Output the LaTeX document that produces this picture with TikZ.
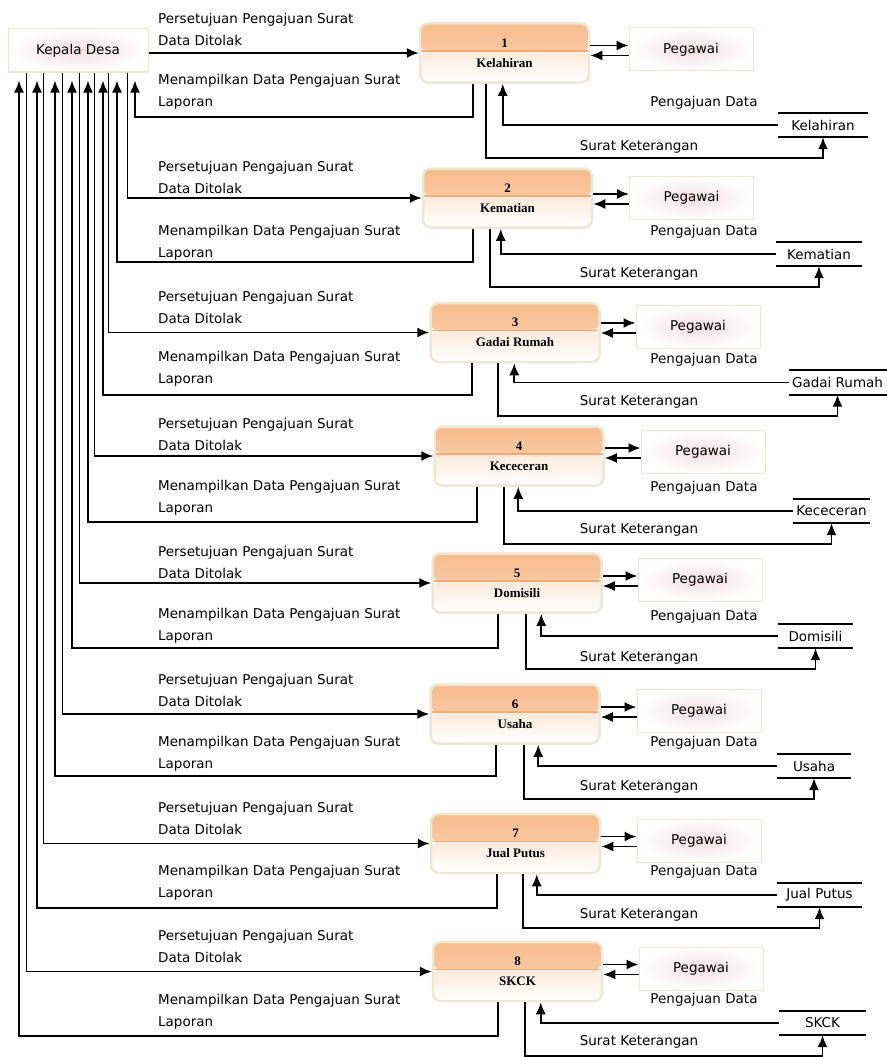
\documentclass[tikz,border=0pt]{standalone}
\usepackage{fontspec}
\setmainfont{DejaVu Sans}
\newfontfamily\procfont{Liberation Serif}
\usepackage{tikz}
\usetikzlibrary{arrows.meta}

\definecolor{procTop}{RGB}{247,187,140}
\definecolor{procMid}{RGB}{251,214,186}
\definecolor{procLow}{RGB}{253,233,218}
\definecolor{procLine}{RGB}{244,170,118}
\definecolor{procEdge}{RGB}{236,232,214}
\definecolor{glow}{RGB}{244,222,228}

\tikzset{
  flow/.style={line width=1.8pt,-{Latex[length=12pt,width=10pt]}},
  entity/.style={rectangle,draw=procEdge,line width=1pt,inner color=glow,outer color=white,minimum height=43pt,font=\fontsize{13.5}{16}\selectfont},
  proc/.style={rectangle,rounded corners=8pt,draw=procEdge,line width=2.5pt,minimum width=169pt,minimum height=59pt,align=center,font=\procfont\bfseries\fontsize{13}{20}\selectfont,
    path picture={
      \shade[top color=procTop,bottom color=procMid] (path picture bounding box.north west) rectangle ([yshift=2pt]path picture bounding box.east);
      \shade[top color=procLow,bottom color=white] ([yshift=2pt]path picture bounding box.west) rectangle (path picture bounding box.south east);
      \draw[procLine,line width=1.5pt] ([yshift=2pt]path picture bounding box.west) -- ([yshift=2pt]path picture bounding box.east);
    }},
  store/.style={minimum width=#1,minimum height=24pt,font=\fontsize{13.5}{16}\selectfont,
    append after command={\pgfextra{\let\storenode=\tikzlastnode}
      (\storenode.north west) edge[line width=1.8pt] (\storenode.north east)
      (\storenode.south west) edge[line width=1.8pt] (\storenode.south east)}},
  lbl/.style={font=\fontsize{13.5}{22}\selectfont,align=left,anchor=west,inner sep=0pt},
  txt/.style={font=\fontsize{13.5}{16}\selectfont,inner sep=0pt}
}

\begin{document}
\begin{tikzpicture}[x=1pt,y=-1pt]
\useasboundingbox (0,0) rectangle (886,1057);

\node[entity,minimum width=140pt] (kd) at (78,50.5) {Kepala Desa};

\node[proc] (p1) at (504.5,53) {1\\Kelahiran};
\node[entity,minimum width=124pt] (g1) at (691,49.5) {Pegawai};
\node[store=90pt] (s1) at (823,125) {Kelahiran};
\node[lbl] (la1) at (158,29) {Persetujuan Pengajuan Surat\\Data Ditolak};
\node[lbl] (lb1) at (158,92) {Menampilkan Data Pengajuan Surat\\Laporan};
\node[txt] (ld1) at (704,103) {Pengajuan Data};
\node[txt] (lk1) at (639,147) {Surat Keterangan};
\coordinate (b1) at (135,117);
\draw[flow] (kd.east |- p1.west) -- (p1.west);
\draw[flow,shorten >=8pt] ([xshift=54pt]p1.south west) |- (b1) -- (b1 |- kd.south);
\draw[flow] ([yshift=4pt]g1.west -| p1.east) -- ([yshift=4pt]g1.west);
\draw[flow] ([yshift=-6pt]g1.west) -- ([yshift=-6pt]g1.west -| p1.east);
\draw[flow] (s1.west) -| ([xshift=84pt]p1.south west);
\draw[flow] ([xshift=67pt]p1.south west) |- ([yshift=-21pt]s1.south) -- (s1.south);

\node[proc] (p2) at (507.5,198) {2\\Kematian};
\node[entity,minimum width=124pt] (g2) at (691.5,198) {Pegawai};
\node[store=86pt] (s2) at (819,254) {Kematian};
\node[lbl] (la2) at (158,177) {Persetujuan Pengajuan Surat\\Data Ditolak};
\node[lbl] (lb2) at (158,243) {Menampilkan Data Pengajuan Surat\\Laporan};
\node[txt] (ld2) at (704,232) {Pengajuan Data};
\node[txt] (lk2) at (639,274) {Surat Keterangan};
\coordinate (b2) at (117,262);
\draw[flow] ([xshift=120pt]kd.south west) |- (p2.west);
\draw[flow,shorten >=8pt] ([xshift=51pt]p2.south west) |- (b2) -- (b2 |- kd.south);
\draw[flow] ([yshift=4pt]g2.west -| p2.east) -- ([yshift=4pt]g2.west);
\draw[flow] ([yshift=-6pt]g2.west) -- ([yshift=-6pt]g2.west -| p2.east);
\draw[flow] (s2.west) -| ([xshift=79pt]p2.south west);
\draw[flow] ([xshift=68pt]p2.south west) |- ([yshift=-21pt]s2.south) -- (s2.south);

\node[proc] (p3) at (515,332.5) {3\\Gadai Rumah};
\node[entity,minimum width=124pt] (g3) at (698,327) {Pegawai};
\node[store=95pt] (s3) at (837.5,382.5) {Gadai Rumah};
\node[lbl] (la3) at (158,307) {Persetujuan Pengajuan Surat\\Data Ditolak};
\node[lbl] (lb3) at (158,369) {Menampilkan Data Pengajuan Surat\\Laporan};
\node[txt] (ld3) at (704,360) {Pengajuan Data};
\node[txt] (lk3) at (639,402) {Surat Keterangan};
\coordinate (b3) at (103,395);
\draw[flow] ([xshift=101pt]kd.south west) |- (p3.west);
\draw[flow,shorten >=8pt] ([xshift=43pt]p3.south west) |- (b3) -- (b3 |- kd.south);
\draw[flow] ([yshift=4pt]g3.west -| p3.east) -- ([yshift=4pt]g3.west);
\draw[flow] ([yshift=-6pt]g3.west) -- ([yshift=-6pt]g3.west -| p3.east);
\draw[flow] (s3.west) -| ([xshift=85pt]p3.south west);
\draw[flow] ([xshift=69pt]p3.south west) |- ([yshift=-21pt]s3.south) -- (s3.south);

\node[proc] (p4) at (519,456) {4\\Kececeran};
\node[entity,minimum width=124pt] (g4) at (703,452) {Pegawai};
\node[store=77pt] (s4) at (831.5,511) {Kececeran};
\node[lbl] (la4) at (158,434) {Persetujuan Pengajuan Surat\\Data Ditolak};
\node[lbl] (lb4) at (158,497.5) {Menampilkan Data Pengajuan Surat\\Laporan};
\node[txt] (ld4) at (704,488) {Pengajuan Data};
\node[txt] (lk4) at (639,530) {Surat Keterangan};
\coordinate (b4) at (88,522);
\draw[flow] ([xshift=87pt]kd.south west) |- (p4.west);
\draw[flow,shorten >=8pt] ([xshift=44pt]p4.south west) |- (b4) -- (b4 |- kd.south);
\draw[flow] ([yshift=4pt]g4.west -| p4.east) -- ([yshift=4pt]g4.west);
\draw[flow] ([yshift=-6pt]g4.west) -- ([yshift=-6pt]g4.west -| p4.east);
\draw[flow] (s4.west) -| ([xshift=85pt]p4.south west);
\draw[flow] ([xshift=71pt]p4.south west) |- ([yshift=-21pt]s4.south) -- (s4.south);

\node[proc] (p5) at (517,583) {5\\Domisili};
\node[entity,minimum width=124pt] (g5) at (700,580) {Pegawai};
\node[store=75pt] (s5) at (815.5,636) {Domisili};
\node[lbl] (la5) at (158,562) {Persetujuan Pengajuan Surat\\Data Ditolak};
\node[lbl] (lb5) at (158,625.5) {Menampilkan Data Pengajuan Surat\\Laporan};
\node[txt] (ld5) at (704,617) {Pengajuan Data};
\node[txt] (lk5) at (639,658) {Surat Keterangan};
\coordinate (b5) at (72,648);
\draw[flow] ([xshift=72pt]kd.south west) |- (p5.west);
\draw[flow,shorten >=8pt] ([xshift=67pt]p5.south west) |- (b5) -- (b5 |- kd.south);
\draw[flow] ([yshift=4pt]g5.west -| p5.east) -- ([yshift=4pt]g5.west);
\draw[flow] ([yshift=-6pt]g5.west) -- ([yshift=-6pt]g5.west -| p5.east);
\draw[flow] (s5.west) -| ([xshift=110pt]p5.south west);
\draw[flow] ([xshift=95pt]p5.south west) |- ([yshift=-21pt]s5.south) -- (s5.south);

\node[proc] (p6) at (515,714) {6\\Usaha};
\node[entity,minimum width=124pt] (g6) at (699,711) {Pegawai};
\node[store=74pt] (s6) at (814,766) {Usaha};
\node[lbl] (la6) at (158,690) {Persetujuan Pengajuan Surat\\Data Ditolak};
\node[lbl] (lb6) at (158,754) {Menampilkan Data Pengajuan Surat\\Laporan};
\node[txt] (ld6) at (704,743) {Pengajuan Data};
\node[txt] (lk6) at (639,787) {Surat Keterangan};
\coordinate (b6) at (55,776);
\draw[flow] ([xshift=55pt]kd.south west) |- (p6.west);
\draw[flow,shorten >=8pt] ([xshift=67pt]p6.south west) |- (b6) -- (b6 |- kd.south);
\draw[flow] ([yshift=4pt]g6.west -| p6.east) -- ([yshift=4pt]g6.west);
\draw[flow] ([yshift=-6pt]g6.west) -- ([yshift=-6pt]g6.west -| p6.east);
\draw[flow] (s6.west) -| ([xshift=109pt]p6.south west);
\draw[flow] ([xshift=95pt]p6.south west) |- ([yshift=-21pt]s6.south) -- (s6.south);

\node[proc] (p7) at (515.5,843.5) {7\\Jual Putus};
\node[entity,minimum width=124pt] (g7) at (699,840.5) {Pegawai};
\node[store=85pt] (s7) at (819.5,895) {Jual Putus};
\node[lbl] (la7) at (158,818.5) {Persetujuan Pengajuan Surat\\Data Ditolak};
\node[lbl] (lb7) at (158,883) {Menampilkan Data Pengajuan Surat\\Laporan};
\node[txt] (ld7) at (704,872) {Pengajuan Data};
\node[txt] (lk7) at (639,915) {Surat Keterangan};
\coordinate (b7) at (37,908);
\draw[flow] ([xshift=36pt]kd.south west) |- (p7.west);
\draw[flow,shorten >=8pt] ([xshift=67pt]p7.south west) |- (b7) -- (b7 |- kd.south);
\draw[flow] ([yshift=4pt]g7.west -| p7.east) -- ([yshift=4pt]g7.west);
\draw[flow] ([yshift=-6pt]g7.west) -- ([yshift=-6pt]g7.west -| p7.east);
\draw[flow] (s7.west) -| ([xshift=107pt]p7.south west);
\draw[flow] ([xshift=93pt]p7.south west) |- ([yshift=-21pt]s7.south) -- (s7.south);

\node[proc] (p8) at (517.5,971.5) {8\\SKCK};
\node[entity,minimum width=124pt] (g8) at (701,968.5) {Pegawai};
\node[store=87pt] (s8) at (822.5,1023) {SKCK};
\node[lbl] (la8) at (158,946.5) {Persetujuan Pengajuan Surat\\Data Ditolak};
\node[lbl] (lb8) at (158,1011.5) {Menampilkan Data Pengajuan Surat\\Laporan};
\node[txt] (ld8) at (704,1000) {Pengajuan Data};
\node[txt] (lk8) at (639,1042) {Surat Keterangan};
\coordinate (b8) at (19,1036);
\draw[flow] ([xshift=19pt]kd.south west) |- (p8.west);
\draw[flow,shorten >=8pt] ([xshift=66pt]p8.south west) |- (b8) -- (b8 |- kd.south);
\draw[flow] ([yshift=4pt]g8.west -| p8.east) -- ([yshift=4pt]g8.west);
\draw[flow] ([yshift=-6pt]g8.west) -- ([yshift=-6pt]g8.west -| p8.east);
\draw[flow] (s8.west) -| ([xshift=109pt]p8.south west);
\draw[flow] ([xshift=93pt]p8.south west) |- ([yshift=-21pt]s8.south) -- (s8.south);

\end{tikzpicture}
\end{document}
